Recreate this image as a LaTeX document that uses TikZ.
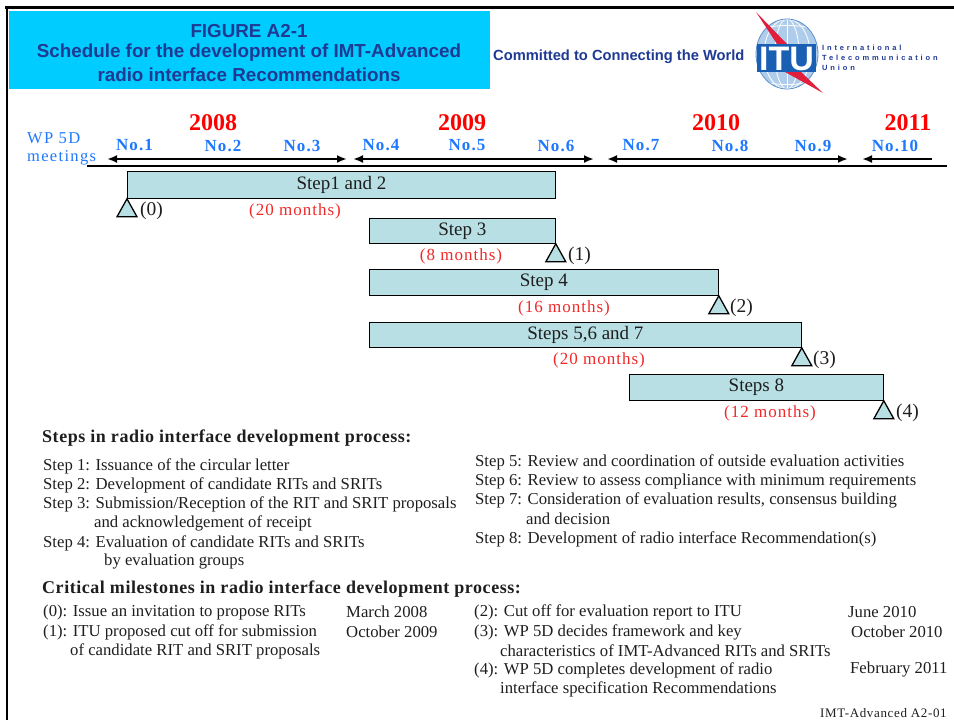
\documentclass[tikz,border=0pt]{standalone}
\usepackage{fontspec}
\setmainfont{Liberation Serif}
\newfontfamily\hdfont{Liberation Sans}
\newfontfamily\logofont{Liberation Sans}
\newfontfamily\itufont{Liberation Sans}[LetterSpace=38]
\usetikzlibrary{arrows.meta}
\definecolor{cyanbg}{RGB}{0,204,255}
\definecolor{navy}{RGB}{31,58,147}
\definecolor{wpblue}{RGB}{30,120,255}
\definecolor{barfill}{RGB}{184,223,227}
\definecolor{yred}{RGB}{255,0,0}
\definecolor{mred}{RGB}{240,40,40}
\definecolor{itublue}{RGB}{25,95,180}
\definecolor{globefill}{RGB}{175,205,235}
\definecolor{boltred}{RGB}{225,30,60}
\definecolor{ink}{RGB}{30,30,30}
\newcommand\setfs[1]{\fontsize{#1}{#1}\selectfont}
\tikzset{
  hd/.style={inner sep=0pt, font=\hdfont\bfseries\setfs{18.8}, text=navy},
  txt/.style={inner sep=0pt, anchor=west, font=\setfs{16.7}, text=ink},
  bold/.style={inner sep=0pt, anchor=west, font=\addfontfeature{LetterSpace=3}\bfseries\setfs{18}, text=ink},
  wp/.style={inner sep=0pt, anchor=west, font=\addfontfeature{LetterSpace=8}\setfs{16.5}, text=wpblue},
  yr/.style={inner sep=0pt, font=\bfseries\setfs{24}, text=yred},
  mtg/.style={inner sep=0pt, font=\addfontfeature{LetterSpace=6}\bfseries\setfs{17}, text=wpblue},
  bar/.style={draw=black, line width=0.8pt, fill=barfill, inner sep=0pt, anchor=north west, font=\setfs{19}, text=ink},
  months/.style={inner sep=0pt, font=\addfontfeature{LetterSpace=6}\setfs{17}, text=mred},
  mslabel/.style={inner sep=0pt, anchor=west, font=\setfs{19.5}, text=ink},
  tri/.style={draw=black, line width=1.3pt, fill=barfill, line join=miter},
  span/.style={line width=2.4pt, {Latex[length=10pt,width=8pt]}-{Latex[length=10pt,width=8pt]}},
  lspan/.style={line width=2.4pt, {Latex[length=10pt,width=8pt]}-},
  itutxt/.style={inner sep=0pt, anchor=north west, align=left, font=\itufont\bfseries\fontsize{7.5}{10}\selectfont, text=navy}
}
\begin{document}
\begin{tikzpicture}[x=1pt,y=-1pt]
\useasboundingbox (0,0) rectangle (954,720);
% frame
\draw[line width=2.5pt] (5,7.5) -- (954,7.5);
\draw[line width=2.5pt] (7,6.5) -- (7,720);
% header
\fill[cyanbg] (9,11) rectangle (490,89);
\node[hd] (fig) at (249,31.5) {FIGURE A2-1};
\node[hd] (sched) at (249,53) {Schedule for the development of IMT-Advanced};
\node[hd] (radio) at (249,75) {radio interface Recommendations};
\node[hd, anchor=west, font=\hdfont\bfseries\setfs{14.7}] (commit) at (493,57) {Committed to Connecting the World};
% logo
\fill[globefill] (787,54) ellipse [x radius=31pt, y radius=35pt];
\begin{scope}
\clip (787,54) ellipse [x radius=31pt, y radius=35pt];
\draw[white, line width=0.8pt] (787,54) ellipse [x radius=12pt, y radius=35pt];
\draw[white, line width=0.8pt] (787,54) ellipse [x radius=23pt, y radius=35pt];
\draw[white, line width=0.8pt] (756,30) .. controls (775,24) and (800,24) .. (818,30);
\draw[white, line width=0.8pt] (756,80) .. controls (775,86) and (800,86) .. (818,80);
\draw[white, line width=0.8pt] (787,19) -- (787,90);
\end{scope}
\draw[itublue!70, line width=0.8pt] (787,54) ellipse [x radius=31pt, y radius=35pt];
\fill[boltred] (756,12) -- (787,44) -- (777,44) -- cycle;
\fill[boltred] (785,72) -- (801,72) -- (823,93) -- cycle;
\fill[itublue] (757,44) rectangle (816,72);
\node[inner sep=0pt, font=\logofont\bfseries\setfs{34}, text=white] (itu) at (786.5,58.5) {ITU};
\node[itutxt] (itname) at (822,44.6) {International\\Telecommunication\\Union};
% timeline labels
\node[wp] (wp5d) at (27,138) {WP 5D};
\node[wp] (meet) at (27,158) {meetings};
\node[yr] (y2008) at (213,123) {2008};
\node[yr] (y2009) at (462,123) {2009};
\node[yr] (y2010) at (716,123) {2010};
\node[yr] (y2011) at (908,123) {2011};
\node[mtg] (n1) at (134.5,145.5) {No.1};
\node[mtg] (n2) at (223,145.5) {No.2};
\node[mtg] (n3) at (302,145.5) {No.3};
\node[mtg] (n4) at (381,145.5) {No.4};
\node[mtg] (n5) at (467,145.5) {No.5};
\node[mtg] (n6) at (556,145.5) {No.6};
\node[mtg] (n7) at (641,145.5) {No.7};
\node[mtg] (n8) at (730,145.5) {No.8};
\node[mtg] (n9) at (813,145.5) {No.9};
\node[mtg] (n10) at (895,145.5) {No.10};
\coordinate (a1l) at (107,159); \coordinate (a1r) at (347,159);
\coordinate (a2l) at (353,159); \coordinate (a2r) at (594,159);
\coordinate (a3l) at (607,159); \coordinate (a3r) at (848,159);
\coordinate (a4l) at (862,159); \coordinate (a4r) at (932,159);
\draw[span] (a1l) -- (a1r);
\draw[span] (a2l) -- (a2r);
\draw[span] (a3l) -- (a3r);
\draw[lspan] (a4l) -- (a4r);
\coordinate (rl) at (87,166); \coordinate (rr) at (947,166);
\draw[line width=1.2pt] (rl) -- (rr);
% bars
\node[bar, minimum width=428pt, minimum height=27pt] (b12) at (127,171) {Step1 and 2};
\node[bar, minimum width=186pt, minimum height=25pt] (b3) at (369,218) {Step 3};
\node[bar, minimum width=349pt, minimum height=26pt] (b4) at (369,269) {Step 4};
\node[bar, minimum width=432pt, minimum height=25pt] (b567) at (369,322) {Steps 5,6 and 7};
\node[bar, minimum width=254pt, minimum height=26pt] (b8) at (629,374) {Steps 8};
% milestones
\draw[tri] (b12.south west) -- ++(-10,18) -- ++(20,0) -- cycle;
\draw[tri] (b3.south east) -- ++(-10,18) -- ++(20,0) -- cycle;
\draw[tri] (b4.south east) -- ++(-10,18) -- ++(20,0) -- cycle;
\draw[tri] (b567.south east) -- ++(-10,18) -- ++(20,0) -- cycle;
\draw[tri] (b8.south east) -- ++(-10,18) -- ++(20,0) -- cycle;
\node[mslabel] (m0) at (140,211) {(0)};
\node[mslabel] (m1) at (568,256) {(1)};
\node[mslabel] (m2) at (730,308) {(2)};
\node[mslabel] (m3) at (813,360) {(3)};
\node[mslabel] (m4) at (896,413) {(4)};
\node[months] (d12) at (295,211) {(20 months)};
\node[months] (d3) at (461,256) {(8 months)};
\node[months] (d4) at (564,308) {(16 months)};
\node[months] (d567) at (599,360) {(20 months)};
\node[months] (d8) at (770,413) {(12 months)};
% steps list
\node[bold] (sh) at (42,438) {Steps in radio interface development process:};
\node[txt] (s1) at (43,466) {Step 1: Issuance of the circular letter};
\node[txt] (s2) at (43,485) {Step 2: Development of candidate RITs and SRITs};
\node[txt] (s3) at (43,504) {Step 3: Submission/Reception of the RIT and SRIT proposals};
\node[txt] (s3b) at (94,523) {and acknowledgement of receipt};
\node[txt] (s4) at (43,543) {Step 4: Evaluation of candidate RITs and SRITs};
\node[txt] (s4b) at (104,562) {by evaluation groups};
\node[txt] (s5) at (475,462) {Step 5: Review and coordination of outside evaluation activities};
\node[txt] (s6) at (475,481) {Step 6: Review to assess compliance with minimum requirements};
\node[txt] (s7) at (475,500) {Step 7: Consideration of evaluation results, consensus building};
\node[txt] (s7b) at (526,519) {and decision};
\node[txt] (s8) at (475,539) {Step 8: Development of radio interface Recommendation(s)};
% milestones list
\node[bold] (mh) at (42,589) {Critical milestones in radio interface development process:};
\node[txt] (c0) at (43,612) {(0): Issue an invitation to propose RITs};
\node[txt] (c0d) at (346,612) {March 2008};
\node[txt] (c1) at (43,632) {(1): ITU proposed cut off for submission};
\node[txt] (c1d) at (346,632) {October 2009};
\node[txt] (c1b) at (70,651) {of candidate RIT and SRIT proposals};
\node[txt] (c2) at (474,612) {(2): Cut off for evaluation report to ITU};
\node[txt] (c2d) at (848,612) {June 2010};
\node[txt] (c3) at (474,632) {(3): WP 5D decides framework and key};
\node[txt] (c3d) at (851,632) {October 2010};
\node[txt] (c3b) at (500,651) {characteristics of IMT-Advanced RITs and SRITs};
\node[txt] (c4) at (474,670) {(4): WP 5D completes development of radio};
\node[txt] (c4d) at (850,670) {February 2011};
\node[txt] (c4b) at (500,689) {interface specification Recommendations};
\node[inner sep=0pt, anchor=base west, font=\addfontfeature{LetterSpace=5}\setfs{13}, text=ink, text depth=0pt] (ref) at (820,717) {IMT-Advanced A2-01};
\end{tikzpicture}
\end{document}
